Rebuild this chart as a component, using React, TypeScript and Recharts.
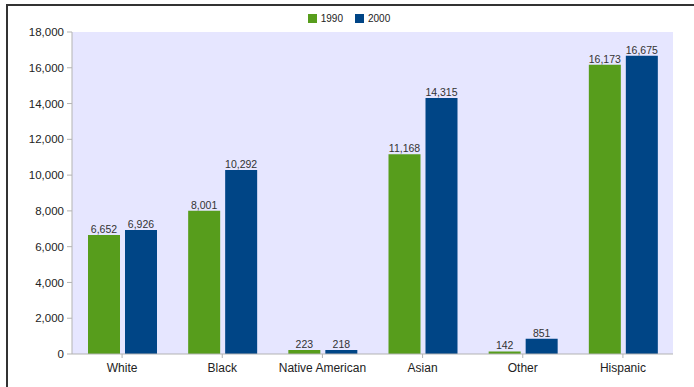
import React from 'react';
import { BarChart, Bar, XAxis, YAxis, CartesianGrid, Legend, LabelList } from 'recharts';

const categories = ['White', 'Black', 'Native American', 'Asian', 'Other', 'Hispanic'];
const values1990 = [6652, 8001, 223, 11168, 142, 16173];
const values2000 = [6926, 10292, 218, 14315, 851, 16675];
const yTicks = [0, 2000, 4000, 6000, 8000, 10000, 12000, 14000, 16000, 18000];

const data = categories.map((name, i) => ({ name, y1990: values1990[i], y2000: values2000[i] }));

const GREEN = '#579d1c';
const BLUE = '#004586';
const FONT = '"Liberation Sans", Arial, sans-serif';

const fmt = (v: any) => Number(v).toLocaleString('en-US');

const LegendContent = (props: any) => {
  const { payload } = props;
  const items = payload || [];
  return (
    <div style={{ display: 'flex', justifyContent: 'center', fontFamily: FONT, fontSize: 10, color: '#222', paddingLeft: 4 }}>
      {items.map((p: any, i: number) => (
        <div key={p.value} style={{ display: 'flex', alignItems: 'center', marginRight: i < items.length - 1 ? 12 : 0 }}>
          <span style={{ display: 'inline-block', width: 9, height: 9, background: p.color, marginRight: 4 }} />
          <span>{p.value}</span>
        </div>
      ))}
    </div>
  );
};

export default function App() {
  return (
    <div style={{ position: 'absolute', left: 0, top: 0, width: 694, height: 387, background: '#fff', overflow: 'hidden' }}>
      <div style={{ position: 'absolute', left: 6, top: 4, width: 700, height: 400, borderTop: '2px solid #333', borderLeft: '2px solid #333' }} />
      <div style={{ position: 'absolute', left: 0, top: 0 }}>
        <BarChart
          width={694}
          height={387}
          data={data}
          margin={{ top: 32, right: 21, bottom: 3, left: 0 }}
          barCategoryGap={16}
          barGap={5}
          style={{ fontFamily: FONT }}
        >
          <CartesianGrid fill="#e6e6ff" stroke="none" horizontal={false} vertical={false} />
          <XAxis
            dataKey="name"
            height={30}
            tickSize={4}
            tickMargin={5}
            axisLine={{ stroke: '#b3b3b3' }}
            tickLine={{ stroke: '#b3b3b3' }}
            tick={{ fill: '#222', fontSize: 12 }}
            interval={0}
          />
          <YAxis
            width={72}
            domain={[0, 18000]}
            ticks={yTicks}
            tickFormatter={fmt}
            tickSize={5}
            tickMargin={3}
            axisLine={{ stroke: '#b3b3b3' }}
            tickLine={{ stroke: '#b3b3b3' }}
            tick={{ fill: '#222', fontSize: 11.5 }}
            allowDataOverflow
          />
          <Legend
            layout="horizontal"
            verticalAlign="middle"
            align="center"
            wrapperStyle={{ top: 13, left: 0, width: 694 }}
            content={<LegendContent />}
          />
          <Bar dataKey="y1990" name="1990" fill={GREEN} isAnimationActive={false}>
            <LabelList dataKey="y1990" position="top" offset={2} formatter={fmt} style={{ fill: '#333', fontSize: 10.5 }} />
          </Bar>
          <Bar dataKey="y2000" name="2000" fill={BLUE} isAnimationActive={false}>
            <LabelList dataKey="y2000" position="top" offset={2} formatter={fmt} style={{ fill: '#333', fontSize: 10.5 }} />
          </Bar>
        </BarChart>
      </div>
    </div>
  );
}
